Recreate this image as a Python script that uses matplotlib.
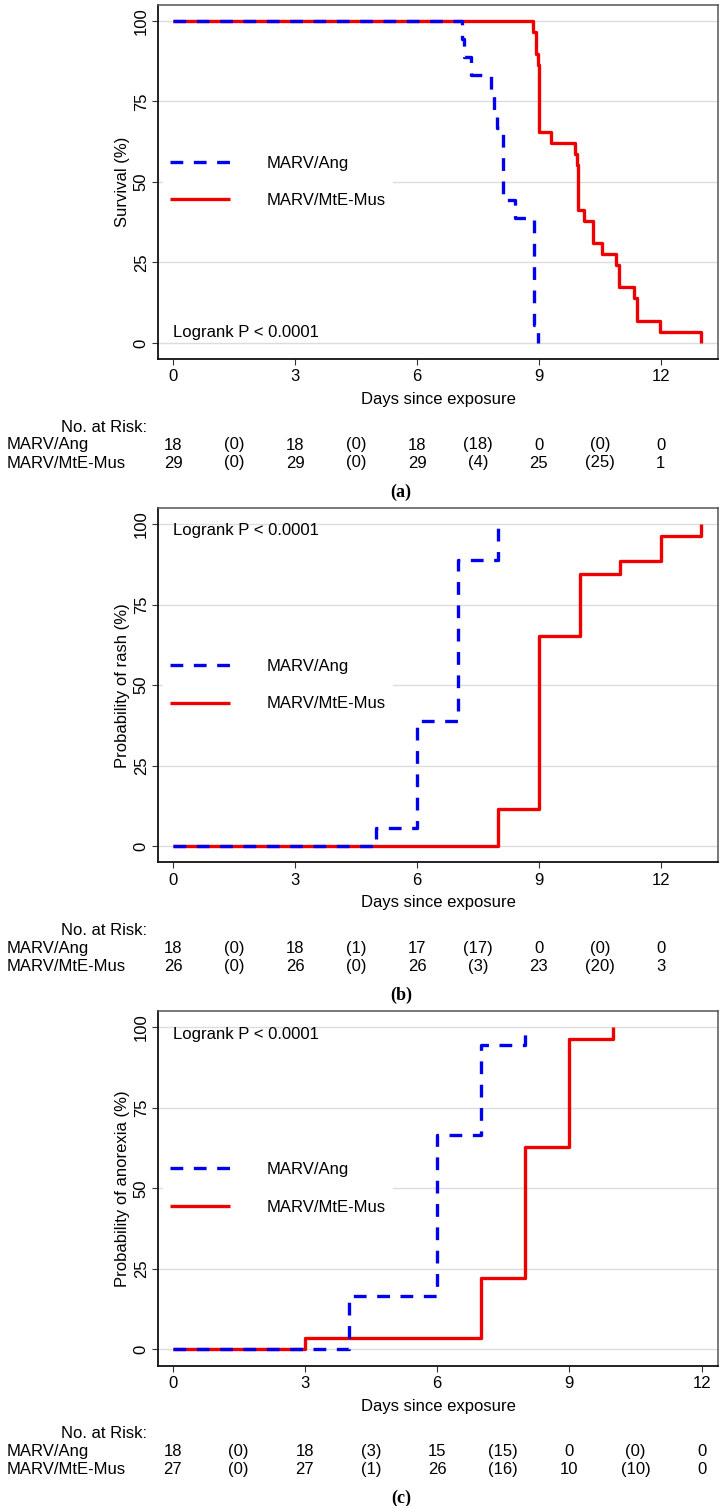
import matplotlib
matplotlib.use('Agg')
import matplotlib.pyplot as plt
import matplotlib.transforms as mtransforms

plt.rcParams['font.family'] = ['Liberation Sans', 'DejaVu Sans']
plt.rcParams['lines.scale_dashes'] = False

# ---------------- data ----------------
labels = ['MARV/Ang', 'MARV/MtE-Mus']

# (a) survival
a_ang_t = [0, 7.10, 7.15, 7.33, 7.83, 7.90, 7.96, 8.12, 8.41, 8.88, 8.97]
a_ang_v = [100, 94.4, 88.9, 83.3, 77.8, 72.2, 66.7, 44.4, 38.9, 5.6, 0]
a_mus_t = [0, 8.85, 8.93, 8.97, 9.00, 9.29, 9.88, 9.93, 9.96, 10.10, 10.33,
           10.56, 10.90, 10.97, 11.34, 11.42, 11.97, 13.00]
a_mus_v = [100, 96.6, 89.7, 86.2, 65.5, 62.1, 58.6, 55.2, 41.4, 37.9, 31.0,
           27.6, 24.1, 17.2, 13.8, 6.9, 3.4, 0]

# (b) rash
b_ang_t = [0, 5, 6, 7, 8]
b_ang_v = [0, 5.6, 38.9, 88.9, 100]
b_mus_t = [0, 8, 9, 10, 11, 12, 13]
b_mus_v = [0, 11.5, 65.4, 84.6, 88.5, 96.2, 100]

# (c) anorexia
c_ang_t = [0, 4, 6, 7, 8]
c_ang_v = [0, 16.7, 66.7, 94.4, 100]
c_mus_t = [0, 3, 7, 8, 9, 10]
c_mus_v = [0, 3.7, 22.2, 63.0, 96.3, 100]

x_ticks = [0, 3, 6, 9, 12]
y_ticks = [0, 25, 50, 75, 100]
risk_cols = [0, 1.5, 3, 4.5, 6, 7.5, 9, 10.5, 12]

a_risk_ang = ['18', '(0)', '18', '(0)', '18', '(18)', '0', '(0)', '0']
a_risk_mus = ['29', '(0)', '29', '(0)', '29', '(4)', '25', '(25)', '1']
b_risk_ang = ['18', '(0)', '18', '(1)', '17', '(17)', '0', '(0)', '0']
b_risk_mus = ['26', '(0)', '26', '(0)', '26', '(3)', '23', '(20)', '3']
c_risk_ang = ['18', '(0)', '18', '(3)', '15', '(15)', '0', '(0)', '0']
c_risk_mus = ['27', '(0)', '27', '(1)', '26', '(16)', '10', '(10)', '0']

panels = [
    dict(ang=(a_ang_t, a_ang_v), mus=(a_mus_t, a_mus_v), ylabel='Survival (%)',
         xlim=(-0.38, 13.41), risk=(a_risk_ang, a_risk_mus), tag='(a)', pval_y=3.1),
    dict(ang=(b_ang_t, b_ang_v), mus=(b_mus_t, b_mus_v), ylabel='Probability of rash (%)',
         xlim=(-0.38, 13.41), risk=(b_risk_ang, b_risk_mus), tag='(b)', pval_y=97.9),
    dict(ang=(c_ang_t, c_ang_v), mus=(c_mus_t, c_mus_v), ylabel='Probability of anorexia (%)',
         xlim=(-0.33, 12.37), risk=(c_risk_ang, c_risk_mus), tag='(c)', pval_y=97.9),
]

# ---------------- figure ----------------
W, H = 728, 1506
DPI = 100
fig = plt.figure(figsize=(W / DPI, H / DPI), dpi=DPI)
FS = 12
BLUE = '#0000ee'
RED = '#ee0000'

def fy(py):
    return 1 - py / H

PANEL_DY = 503.3
for i, p in enumerate(panels):
    off = i * PANEL_DY
    top, bot = 4.7 + off, 359.0 + off
    left, right = 158.0, 718.0
    ax = fig.add_axes([left / W, 1 - bot / H, (right - left) / W, (bot - top) / H])
    ax.set_xlim(*p['xlim'])
    ax.set_ylim(-5, 105)
    ax.set_xticks(x_ticks)
    ax.set_yticks(y_ticks)
    ax.yaxis.grid(True, color='#dcdcdc', lw=1.0, zorder=0)
    ax.set_axisbelow(True)

    ax.step(p['mus'][0], p['mus'][1], where='post', color=RED, lw=2.4,
            solid_capstyle='butt', label=labels[1], zorder=3)
    ax.step(p['ang'][0], p['ang'][1], where='post', color=BLUE, lw=2.4,
            ls=(0, (9.2, 7.6)), dash_capstyle='butt', label=labels[0], zorder=4)

    h, l = ax.get_legend_handles_labels()
    leg = ax.legend([h[1], h[0]], [l[1], l[0]], loc='center left',
                    bbox_to_anchor=(0.009, 0.5), borderaxespad=0, borderpad=0.42,
                    handlelength=3.6, handletextpad=2.2, labelspacing=1.35,
                    fontsize=FS, frameon=True, fancybox=False)
    leg.get_frame().set_facecolor('white')
    leg.get_frame().set_edgecolor('none')
    leg.get_frame().set_alpha(1)
    leg.set_zorder(2)

    ax.text(0, p['pval_y'], 'Logrank P < 0.0001', ha='left', va='center', fontsize=FS)

    for s in ['left', 'bottom']:
        ax.spines[s].set_color('#111111')
        ax.spines[s].set_linewidth(1.3)
    for s in ['top', 'right']:
        ax.spines[s].set_color('#555555')
        ax.spines[s].set_linewidth(1.1)
    ax.tick_params(axis='both', direction='out', length=4.3, width=0.8,
                   color='#333333', labelsize=FS)
    ax.tick_params(axis='x', pad=3.2)
    ax.tick_params(axis='y', pad=2.3, labelrotation=90)
    for lab in ax.get_yticklabels():
        lab.set_va('center')
    ax.set_xlabel('Days since exposure', fontsize=FS, labelpad=5.5)
    ax.set_ylabel(p['ylabel'], fontsize=FS, labelpad=3)

    # number at risk table
    tr = mtransforms.blended_transform_factory(ax.transData, fig.transFigure)
    fig.text(147 / W, fy(427 + off), 'No. at Risk:', ha='right', va='center', fontsize=FS)
    fig.text(7 / W, fy(445 + off), labels[0], ha='left', va='center', fontsize=FS)
    fig.text(7 / W, fy(463 + off), labels[1], ha='left', va='center', fontsize=FS)
    for xc, s1, s2 in zip(risk_cols, p['risk'][0], p['risk'][1]):
        ax.text(xc, fy(445 + off), s1, transform=tr, ha='center', va='center',
                fontsize=FS, clip_on=False)
        ax.text(xc, fy(463 + off), s2, transform=tr, ha='center', va='center',
                fontsize=FS, clip_on=False)
    fig.text(401 / W, fy(492 + off), p['tag'], ha='center', va='center',
             fontsize=FS + 1, fontweight='bold', family=['Liberation Serif', 'DejaVu Serif'])

fig.savefig('out.png', dpi=DPI)
